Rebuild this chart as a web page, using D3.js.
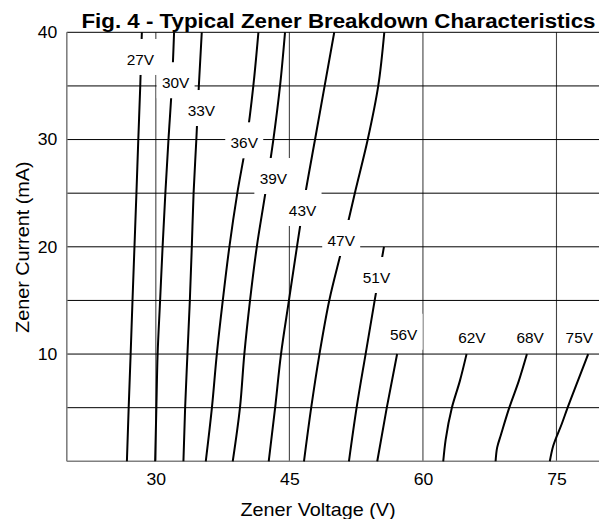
<!DOCTYPE html>
<html><head><meta charset="utf-8">
<script src="https://cdn.jsdelivr.net/npm/d3@7"></script>
<style>
body{margin:0;background:#fff}
svg{display:block}
text{font-family:Arial,"Liberation Sans",Helvetica,sans-serif;fill:#000}
</style>
</head><body>
<svg id="chart" width="599" height="519"></svg>
<script>
// ---------- data ----------
const titleText = "Fig. 4 - Typical Zener Breakdown Characteristics";
const xTitle = "Zener Voltage (V)";
const yTitle = "Zener Current (mA)";
const voltTicks = [30, 45, 60, 75];
const currentTicks = [10, 20, 30, 40];
const currentGrid = [5, 10, 15, 20, 25, 30, 35, 40];

const seriesNames = ["27V","30V","33V","36V","39V","43V","47V","51V","56V","62V","68V","75V"];

const currentsFull = [0, 5, 10, 15, 20, 25, 30, 35, 40];
const v27 = [26.75, 26.95, 27.17, 27.38, 27.6, 27.82, 28.03, 28.25, 28.43];
const v30 = [29.92, 30.06, 30.2, 30.48, 30.76, 31.07, 31.42, 31.8, 32.05];
const v33 = [33.1, 33.29, 33.55, 33.82, 34.04, 34.24, 34.55, 34.83, 35.16];
const v36 = [35.61, 36.3, 36.85, 37.52, 38.26, 39.15, 40.2, 40.95, 41.52];
const v39 = [38.64, 39.45, 39.94, 40.58, 41.34, 42.3, 43.2, 43.95, 44.51];
const v43 = [42.68, 43.4, 44.06, 44.95, 45.85, 46.8, 47.88, 48.96, 50.04];
const v47 = [46.64, 47.45, 48.38, 49.48, 50.95, 52.35, 53.8, 54.98, 55.66];
const i51 = [0, 5, 10, 15, 20];
const v51 = [51.69, 52.55, 53.56, 54.58, 55.62];
const i56 = [0, 5, 10];
const v56 = [54.87, 55.94, 57.1];
const i62 = [0, 2, 5, 7.5, 10];
const v62 = [62.28, 62.55, 63.25, 64.15, 64.9];
const i68 = [0, 1.3, 2.5, 5, 7.5, 10];
const v68 = [68.16, 68.34, 68.77, 69.7, 70.77, 71.68];
const i75 = [0, 1.4, 3.5, 5, 7.5, 10];
const v75 = [74.25, 74.62, 75.6, 76.25, 77.4, 78.56];

// label anchors (voltage, current) of each curve's name
const labelVolt    = [28.27, 32.22, 35.11, 39.93, 43.2, 46.48, 50.82, 54.78, 57.83, 65.5, 72.04, 77.56];
const labelCurrent = [37.42, 35.25, 32.66, 29.65, 26.32, 23.34, 20.54, 17.09, 11.8, 11.5, 11.5, 11.54];

const curveCurrents = [currentsFull, currentsFull, currentsFull, currentsFull, currentsFull, currentsFull, currentsFull, i51, i56, i62, i68, i75];
const curveVolts = [v27, v30, v33, v36, v39, v43, v47, v51, v56, v62, v68, v75];

// ---------- drawing ----------
const svg = d3.select("#chart");
const x = d3.scaleLinear().domain([20, 80]).range([66.8, 601]);
const y = d3.scaleLinear().domain([0, 40]).range([461.3, 32.3]);
const SX = 1.1;

// grid
svg.append("g").selectAll("line").data(voltTicks).join("line")
  .attr("x1", d => x(d)).attr("x2", d => x(d))
  .attr("y1", y(0)).attr("y2", y(40))
  .attr("stroke", "#444").attr("stroke-width", 1.1);
svg.append("g").selectAll("line").data(currentGrid).join("line")
  .attr("x1", x(20)).attr("x2", x(80))
  .attr("y1", d => y(d)).attr("y2", d => y(d))
  .attr("stroke", "#000").attr("stroke-width", 1);

// axes lines
svg.append("line").attr("x1", x(20)).attr("x2", x(20)).attr("y1", y(40)).attr("y2", y(0))
  .attr("stroke", "#808080").attr("stroke-width", 1.6);
svg.append("line").attr("x1", x(20)).attr("x2", x(80)).attr("y1", y(0)).attr("y2", y(0))
  .attr("stroke", "#808080").attr("stroke-width", 1.6);

// tick labels via d3 axes (text only)
const xAxis = svg.append("g").attr("transform", `translate(0,${y(0)})`)
  .call(d3.axisBottom(x).tickValues(voltTicks).tickSize(0).tickPadding(0));
xAxis.select(".domain").remove();
xAxis.selectAll("text").attr("font-size", 16).attr("dy", null).attr("y", 23.7)
  .attr("transform", `scale(${SX},1)`);

const yAxis = svg.append("g").attr("transform", `translate(${x(20)},0)`)
  .call(d3.axisLeft(y).tickValues(currentTicks).tickSize(0).tickPadding(0));
yAxis.select(".domain").remove();
yAxis.selectAll("text").attr("font-size", 16).attr("x", 0).attr("dy", "0.33em")
  .attr("transform", `translate(-9.5,0) scale(${SX},1)`);

// curves
const line = d3.line().x(d => x(d[0])).y(d => y(d[1])).curve(d3.curveMonotoneY);
svg.append("g").selectAll("path").data(curveVolts).join("path")
  .attr("d", (vs, k) => line(vs.map((v, j) => [v, curveCurrents[k][j]])))
  .attr("fill", "none").attr("stroke", "#000").attr("stroke-width", 2);

// label boxes + labels
const lg = svg.append("g");
seriesNames.forEach((name, k) => {
  const cx = x(labelVolt[k]), cy = y(labelCurrent[k]);
  lg.append("rect").attr("x", cx - 19).attr("y", cy - 21).attr("width", 38).attr("height", 36)
    .attr("fill", "#fff");
  lg.append("text").attr("transform", `translate(${cx},${cy}) scale(${SX},1)`)
    .attr("text-anchor", "middle").attr("dy", "0.36em").attr("font-size", 14).text(name);
});

// titles
svg.append("text").attr("x", 81.5).attr("y", 28.3).attr("font-size", 20).attr("font-weight", "bold")
  .attr("textLength", 514).attr("lengthAdjust", "spacingAndGlyphs").text(titleText);
svg.append("text").attr("transform", `translate(318,516.3) scale(${SX},1)`).attr("text-anchor", "middle")
  .attr("font-size", 18).text(xTitle);
svg.append("text").attr("transform", `translate(28.5,247.2) rotate(-90) scale(${SX},1)`).attr("text-anchor", "middle")
  .attr("font-size", 18).text(yTitle);
</script>
</body></html>
